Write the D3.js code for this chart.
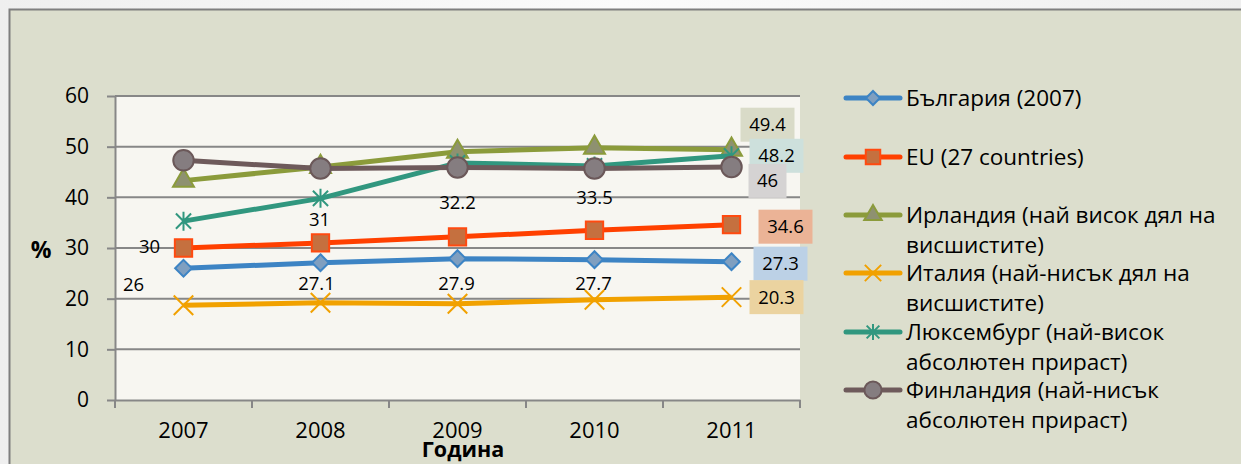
<!DOCTYPE html>
<html>
<head>
<meta charset="utf-8">
<script src="https://cdn.jsdelivr.net/npm/d3@7"></script>
<style>
  html, body { margin: 0; padding: 0; }
  body { width: 1241px; height: 464px; overflow: hidden; background: #f1f1f1; }
  svg text { font-family: "Open Sans", "Noto Sans", sans-serif; fill: #000; }
</style>
</head>
<body>
<svg class="svgMain" width="1241" height="464"></svg>
<script>
// Chart data: share of graduates (%), 2007-2011.
const years = ["2007", "2008", "2009", "2010", "2011"];
const yTicks = [0, 10, 20, 30, 40, 50, 60];

const bulgaria = [26, 27.1, 27.9, 27.7, 27.3];
const eu27 = [30, 31, 32.2, 33.5, 34.6];
const ireland = [43.3, 46.0, 49.0, 49.8, 49.4];
const italy = [18.7, 19.2, 19.0, 19.8, 20.3];
const luxembourg = [35.3, 39.8, 46.8, 46.2, 48.2];
const finland = [47.3, 45.7, 45.9, 45.7, 46];

const seriesNames = [
    ["България (2007)"],
    ["EU (27 countries)"],
    ["Ирландия (най висок дял на", "висшистите)"],
    ["Италия (най-нисък дял на", "висшистите)"],
    ["Люксембург (най-висок", "абсолютен прираст)"],
    ["Финландия (най-нисък", "абсолютен прираст)"]
];

const yTitle = "%";
const xTitle = "Година";

// Custom marker shapes for d3.symbol.
const symDiamond = { draw (ctx, size) {
    let r = Math.sqrt(size) / 2;
    ctx.moveTo(0, -r); ctx.lineTo(r, 0); ctx.lineTo(0, r); ctx.lineTo(-r, 0); ctx.closePath();
} };
const symCross = { draw (ctx, size) {
    let r = Math.sqrt(size) / 2;
    ctx.moveTo(-r, -r); ctx.lineTo(r, r); ctx.moveTo(r, -r); ctx.lineTo(-r, r);
} };
const symStar = { draw (ctx, size) {
    let r = Math.sqrt(size) / 2;
    ctx.moveTo(-r * 0.8, -r * 0.8); ctx.lineTo(r * 0.8, r * 0.8);
    ctx.moveTo(r * 0.8, -r * 0.8); ctx.lineTo(-r * 0.8, r * 0.8);
    ctx.moveTo(0, -r); ctx.lineTo(0, r);
} };

// Styles per series, in drawing order.
const seriesStyle = [
    { line: "#3d84c4", type: symDiamond, size: 280, fill: "#7f9fc0", stroke: "#3d84c4", box: "#bcd1e6",
      nudge: [[-50, 16], [-4, 21], [-1, 25], [-1, 24], [49, 2]] },
    { line: "#ff4000", type: d3.symbolSquare, size: 300, fill: "#c5703f", stroke: "#ff4a10", box: "#ebb396",
      nudge: [[-34, -1], [-1, -23], [0, -34], [0, -33], [54, 2]] },
    { line: "#8b9b3b", type: d3.symbolTriangle, size: 190, fill: "#8e9170", stroke: "#8b9b3b", box: "#d9dbc8",
      nudge: [null, null, null, null, [36, -25]] },
    { line: "#f1a100", type: symCross, size: 380, fill: "none", stroke: "#f1a100", box: "#ebd3a0",
      nudge: [null, null, null, null, [45, 0]] },
    { line: "#31977f", type: symStar, size: 360, fill: "none", stroke: "#31977f", box: "#cde0dc",
      nudge: [null, null, null, null, [45, 0]] },
    { line: "#6e5a5b", type: d3.symbolCircle, size: 330, fill: "#857d80", stroke: "#6b5859", box: "#d5d3d3",
      nudge: [null, null, null, null, [36, 14]] }
];
const seriesValues = [bulgaria, eu27, ireland, italy, luxembourg, finland];

const svgMain = d3.select(".svgMain");

// Page background + chart area.
let grad = svgMain.append("defs").append("linearGradient").attr("id", "pageGrad");
grad.append("stop").attr("offset", "0%").attr("stop-color", "#efefef");
grad.append("stop").attr("offset", "50%").attr("stop-color", "#fbfbfb");
grad.append("stop").attr("offset", "100%").attr("stop-color", "#efefef");
svgMain.append("rect").attr("width", 1241).attr("height", 464).attr("fill", "url(#pageGrad)");
svgMain.append("rect")
    .attr("x", 9.5).attr("y", 9.5).attr("width", 1250).attr("height", 470)
    .attr("fill", "#dcdecd").attr("stroke", "#7f7f7f").attr("stroke-width", 2);

// Scales.
const x = d3.scaleBand().domain(years).range([115, 800]);
const y = d3.scaleLinear().domain([0, 60]).range([400, 96]);
const cx = d => x(d) + x.bandwidth() / 2;

// Plot area.
svgMain.append("rect")
    .attr("x", 115).attr("y", 96).attr("width", 685).attr("height", 304)
    .attr("fill", "#f7f6f1");

// Gridlines.
svgMain.append("g").selectAll("line").data(yTicks.slice(1)).join("line")
    .attr("x1", 115).attr("x2", 800)
    .attr("y1", d => y(d)).attr("y2", d => y(d))
    .attr("stroke", "#878787").attr("stroke-width", 2);

// Y axis.
let yAxis = svgMain.append("g").attr("transform", "translate(115,0)")
    .call(d3.axisLeft(y).tickValues(yTicks).tickSize(8).tickPadding(18).tickSizeOuter(0));
yAxis.select(".domain").attr("stroke", "#878787").attr("stroke-width", 2);
yAxis.selectAll(".tick line").attr("stroke", "#878787").attr("stroke-width", 2);
yAxis.selectAll(".tick text").attr("font-size", 21).attr("font-family", null);

// X axis: labels centred in bands, ticks on band edges.
let xAxis = svgMain.append("g").attr("transform", "translate(0,400)")
    .call(d3.axisBottom(x).tickSize(0).tickPadding(22));
xAxis.select(".domain").attr("stroke", "#878787").attr("stroke-width", 2);
xAxis.selectAll(".tick text").attr("font-size", 22).attr("font-family", null);
xAxis.selectAll(".edgeTick").data(years.map(d => x(d)).concat([800])).join("line")
    .attr("class", "edgeTick")
    .attr("x1", d => d).attr("x2", d => d).attr("y1", 0).attr("y2", 8)
    .attr("stroke", "#878787").attr("stroke-width", 2);

// Axis titles.
svgMain.append("text").text(yTitle)
    .attr("x", 41).attr("y", 250).attr("dy", "0.35em")
    .attr("text-anchor", "middle").attr("font-weight", "bold").attr("font-size", 23);
svgMain.append("text").text(xTitle)
    .attr("x", 463).attr("y", 449).attr("dy", "0.35em")
    .attr("text-anchor", "middle").attr("font-weight", "bold").attr("font-size", 21.5);

// Lines and markers.
const lineGen = d3.line().x(d => cx(d.year)).y(d => y(d.value));
seriesValues.forEach((vals, i) => {
    let st = seriesStyle[i];
    let pts = years.map((yr, j) => ({ year: yr, value: vals[j] }));
    let g = svgMain.append("g").attr("class", "series s" + i);
    g.append("path").datum(pts)
        .attr("d", lineGen).attr("fill", "none")
        .attr("stroke", st.line).attr("stroke-width", 5).attr("stroke-linejoin", "round");
    g.selectAll(".marker").data(pts).join("path")
        .attr("class", "marker")
        .attr("transform", d => `translate(${cx(d.year)},${y(d.value)})`)
        .attr("d", d3.symbol().type(st.type).size(st.size))
        .attr("fill", st.fill).attr("stroke", st.stroke).attr("stroke-width", 2);
});

// Data labels (last year values get coloured boxes).
seriesValues.forEach((vals, i) => {
    let st = seriesStyle[i];
    let g = svgMain.append("g").attr("class", "labels l" + i);
    years.forEach((yr, j) => {
        let nd = st.nudge[j];
        if (!nd) { return; }
        let lx = cx(yr) + nd[0], ly = y(vals[j]) + nd[1];
        let label = String(vals[j]);
        if (j === years.length - 1) {
            let w = label.length > 2 ? 54 : 38;
            g.append("rect")
                .attr("x", lx - w / 2).attr("y", ly - 17).attr("width", w).attr("height", 34)
                .attr("fill", st.box);
        }
        g.append("text").text(label)
            .attr("x", lx).attr("y", ly).attr("dy", "0.35em")
            .attr("text-anchor", "middle").attr("font-size", 18.5);
    });
});

// Legend.
const legendRows = [98, 157, 215, 273, 332, 390];
seriesNames.forEach((lines, i) => {
    let st = seriesStyle[i];
    let g = svgMain.append("g").attr("class", "legend").attr("transform", `translate(0,${legendRows[i]})`);
    g.append("line").attr("x1", 846).attr("x2", 900).attr("y1", 0).attr("y2", 0)
        .attr("stroke", st.line).attr("stroke-width", 5).attr("stroke-linecap", "round");
    g.append("path").attr("transform", "translate(873,0)")
        .attr("d", d3.symbol().type(st.type).size(st.size * 0.7))
        .attr("fill", st.fill).attr("stroke", st.stroke).attr("stroke-width", 2);
    lines.forEach((ln, k) => {
        g.append("text").text(ln)
            .attr("x", 906).attr("y", k * 30).attr("dy", "0.35em")
            .attr("font-size", 22.5);
    });
});
</script>
</body>
</html>
